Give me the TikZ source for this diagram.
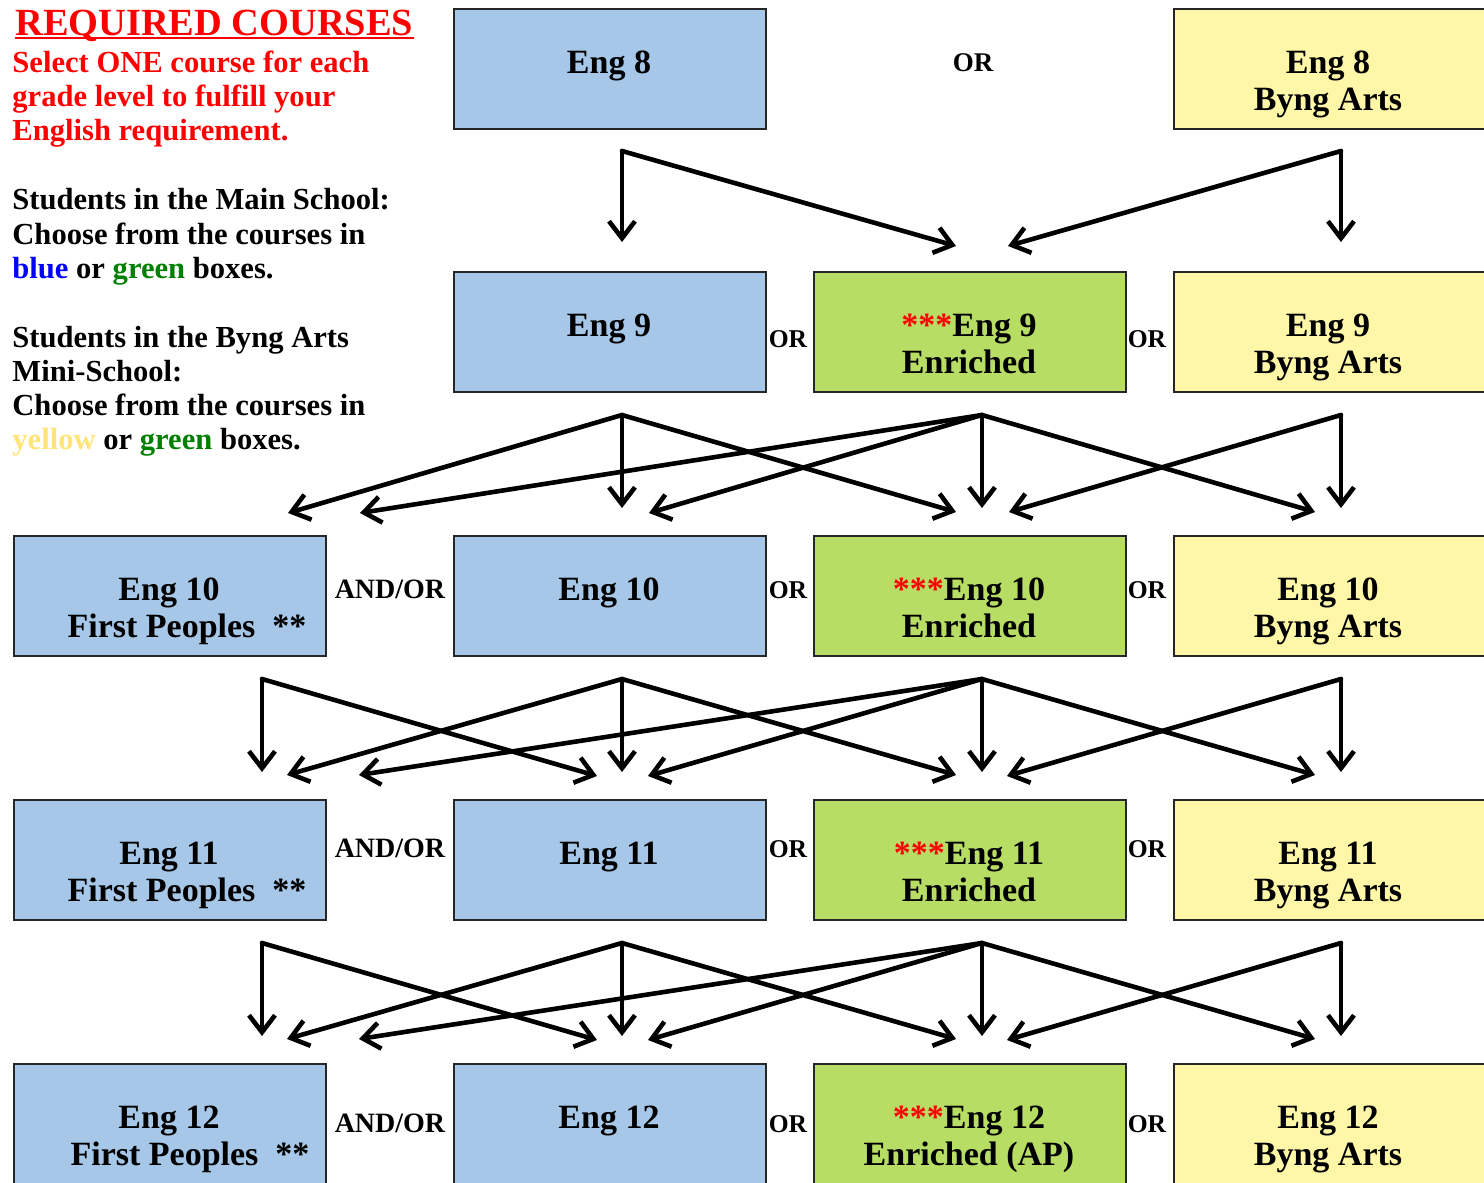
\documentclass[tikz,border=0pt]{standalone}
\usepackage{fontspec}
\setmainfont{Liberation Serif}
\usetikzlibrary{arrows.meta}
\definecolor{bluebox}{RGB}{167,199,232}
\definecolor{greenbox}{RGB}{183,221,100}
\definecolor{yellowbox}{RGB}{255,247,168}
\definecolor{txtblue}{RGB}{0,0,255}
\definecolor{txtgreen}{RGB}{0,128,0}
\definecolor{txtyellow}{RGB}{255,228,120}
\definecolor{txtred}{RGB}{255,0,0}
\tikzset{
  course/.style={draw=black!85, line width=0.8pt, minimum width=156pt, minimum height=60pt, inner sep=0pt, anchor=north west},
  bluec/.style={course, fill=bluebox},
  greenc/.style={course, fill=greenbox},
  yellowc/.style={course, fill=yellowbox, minimum width=162pt},
  boxtext/.style={font=\fontsize{17}{20}\selectfont\bfseries, anchor=base, inner sep=0pt},
  ortext/.style={font=\fontsize{12.8}{15}\selectfont\bfseries, anchor=base, inner sep=0pt},
  andortext/.style={font=\fontsize{14}{16}\selectfont\bfseries, anchor=base, inner sep=0pt},
  lefttext/.style={font=\fontsize{15.3}{17}\selectfont\bfseries, anchor=base west, inner sep=0pt},
  flow/.style={line width=2.3pt, -{Straight Barb[length=8.5pt,width=13pt]}, line cap=round, line join=round},
}
\begin{document}
\begin{tikzpicture}[x=0.5pt,y=-0.5pt]
\useasboundingbox (0,0) rectangle (1484,1183);
\fill[white] (0,0) rectangle (1484,1183);

% ---------- left texts ----------
\node[anchor=base west, inner sep=0pt, text=txtred, font=\fontsize{19.2}{22}\selectfont\bfseries] (title) at (15,35) {REQUIRED COURSES};
\draw[txtred, line width=0.6pt] ([yshift=-1.5pt]title.base west) -- ([yshift=-1.5pt]title.base east);
\node[lefttext, text=txtred] (l1) at (12,72) {Select ONE course for each};
\node[lefttext, text=txtred] (l2) at (12,106) {grade level to fulfill your};
\node[lefttext, text=txtred] (l3) at (12,140) {English requirement.};
\node[lefttext] (l4) at (12,209) {Students in the Main School:};
\node[lefttext] (l5) at (12,244) {Choose from the courses in};
\node[lefttext] (l6) at (12,278) {\textcolor{txtblue}{blue} or \textcolor{txtgreen}{green} boxes.};
\node[lefttext] (l7) at (12,347) {Students in the Byng Arts};
\node[lefttext] (l8) at (12,381) {Mini-School:};
\node[lefttext] (l9) at (12,415) {Choose from the courses in};
\node[lefttext] (l10) at (12,449) {\textcolor{txtyellow}{yellow} or \textcolor{txtgreen}{green} boxes.};

% ---------- boxes ----------
\node[bluec] (b8) at (453,8) {};
\node[yellowc] (y8) at (1173,8) {};
\node[bluec] (b9) at (453,271) {};
\node[greenc] (g9) at (813,271) {};
\node[yellowc] (y9) at (1173,271) {};
\foreach \n/\top in {10/535,11/799,12/1063} {
  \node[bluec] (f\n) at (13,\top) {};
  \node[bluec] (b\n) at (453,\top) {};
  \node[greenc] (g\n) at (813,\top) {};
  \node[yellowc] (y\n) at (1173,\top) {};
}

% ---------- box texts ----------
\node[boxtext] (tb8) at (609,73) {Eng 8};
\node[boxtext] (ty8a) at (1328,73) {Eng 8};
\node[boxtext] (ty8b) at (1328,110) {Byng Arts};
\node[ortext, font=\fontsize{13.5}{15}\selectfont\bfseries] (or8) at (973,71) {OR};

\node[boxtext] (tb9) at (609,336) {Eng 9};
\node[boxtext] (tg9a) at (969,336) {\textcolor{txtred}{***}Eng 9};
\node[boxtext] (tg9b) at (969,373) {Enriched};
\node[boxtext] (ty9a) at (1328,336) {Eng 9};
\node[boxtext] (ty9b) at (1328,373) {Byng Arts};
\node[ortext] (or9a) at (788,347) {OR};
\node[ortext] (or9b) at (1147,347) {OR};

\foreach \n/\bl/\ob/\fx/\en in {10/600/598/187/Enriched,11/864/857/187/Enriched,12/1128/1132/190/Enriched (AP)} {
  \node[boxtext] (tf\n a) at (169,\bl) {Eng \n};
  \node[boxtext] (tf\n b) at (\fx,\bl+37) {First Peoples\ \ **};
  \node[boxtext] (tb\n) at (609,\bl) {Eng \n};
  \node[boxtext] (tg\n a) at (969,\bl) {\textcolor{txtred}{***}Eng \n};
  \node[boxtext] (tg\n b) at (969,\bl+37) {\en};
  \node[boxtext] (ty\n a) at (1328,\bl) {Eng \n};
  \node[boxtext] (ty\n b) at (1328,\bl+37) {Byng Arts};
  \node[andortext] (ao\n) at (390,\ob) {AND/OR};
  \node[ortext] (or\n a) at (788,\ob) {OR};
  \node[ortext] (or\n b) at (1147,\ob) {OR};
}

% ---------- arrows ----------
\coordinate (s0a) at (622,151);
\coordinate (s0c) at (1341,151);
\coordinate (t0a) at (622,242);
\coordinate (t0b) at (956,246);
\coordinate (t0c) at (1008,246);
\coordinate (t0d) at (1341,242);
\draw[flow] (s0a) -- (t0a);
\draw[flow] (s0a) -- (t0b);
\draw[flow] (s0c) -- (t0c);
\draw[flow] (s0c) -- (t0d);

\coordinate (s1a) at (622,415);
\coordinate (s1b) at (982,415);
\coordinate (s1c) at (1341,415);
\coordinate (t1a) at (288,513);
\coordinate (t1b) at (360,513);
\coordinate (t1c) at (622,508);
\coordinate (t1d) at (649,513);
\coordinate (t1e) at (956,512);
\coordinate (t1f) at (982,508);
\coordinate (t1g) at (1009,512);
\coordinate (t1h) at (1315,512);
\coordinate (t1i) at (1341,508);
\draw[flow] (s1a) -- (t1a);
\draw[flow] (s1a) -- (t1c);
\draw[flow] (s1a) -- (t1e);
\draw[flow] (s1b) -- (t1b);
\draw[flow] (s1b) -- (t1d);
\draw[flow] (s1b) -- (t1f);
\draw[flow] (s1b) -- (t1h);
\draw[flow] (s1c) -- (t1g);
\draw[flow] (s1c) -- (t1i);

\foreach \r/\dy in {2/0,3/264} {
  \coordinate (s\r a) at (262,679+\dy);
  \coordinate (s\r b) at (622,679+\dy);
  \coordinate (s\r c) at (982,679+\dy);
  \coordinate (s\r d) at (1341,679+\dy);
  \coordinate (t\r a) at (262,772+\dy);
  \coordinate (t\r b) at (287,775+\dy);
  \coordinate (t\r c) at (359,775+\dy);
  \coordinate (t\r d) at (597,776+\dy);
  \coordinate (t\r e) at (622,772+\dy);
  \coordinate (t\r f) at (648,776+\dy);
  \coordinate (t\r g) at (956,775+\dy);
  \coordinate (t\r h) at (982,772+\dy);
  \coordinate (t\r i) at (1007,776+\dy);
  \coordinate (t\r j) at (1315,775+\dy);
  \coordinate (t\r k) at (1341,772+\dy);
  \draw[flow] (s\r a) -- (t\r a);
  \draw[flow] (s\r a) -- (t\r d);
  \draw[flow] (s\r b) -- (t\r b);
  \draw[flow] (s\r b) -- (t\r e);
  \draw[flow] (s\r b) -- (t\r g);
  \draw[flow] (s\r c) -- (t\r c);
  \draw[flow] (s\r c) -- (t\r f);
  \draw[flow] (s\r c) -- (t\r h);
  \draw[flow] (s\r c) -- (t\r j);
  \draw[flow] (s\r d) -- (t\r i);
  \draw[flow] (s\r d) -- (t\r k);
}
\end{tikzpicture}
\end{document}
